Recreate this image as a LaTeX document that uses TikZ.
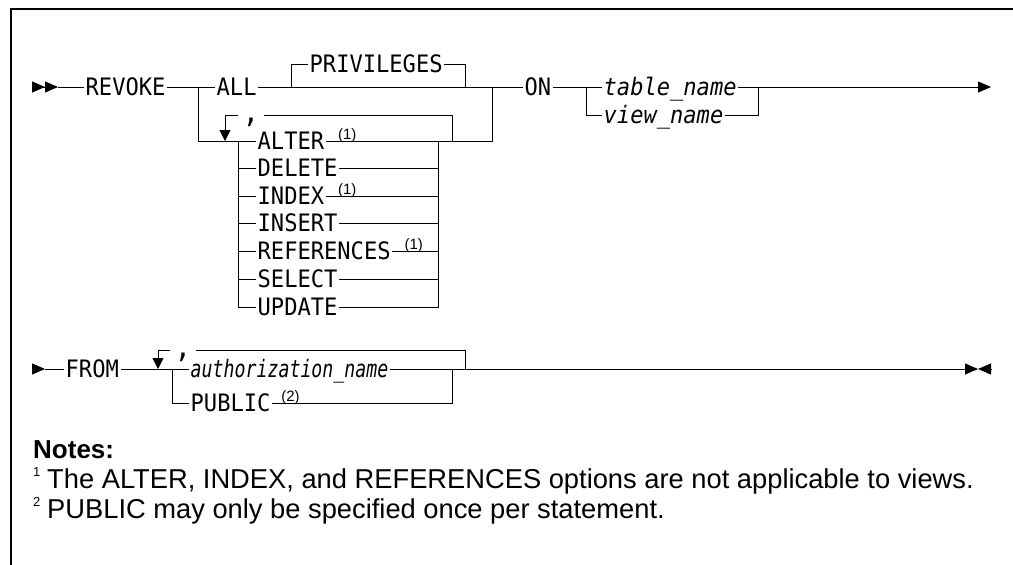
\documentclass[tikz,border=0pt]{standalone}
\usepackage{fontspec}
\setmainfont{Liberation Sans}
\newfontfamily\railfont[FakeStretch=0.92]{DejaVu Sans Mono}
\newfontfamily\railnarrow[FakeStretch=0.76]{DejaVu Sans Mono}
\usetikzlibrary{arrows.meta,positioning}
\tikzset{
  x=1pt,y=-1pt,
  rail/.style={line width=0.9pt},
  kw/.style={font=\railfont\fontsize{24}{24}\selectfont,inner xsep=1.5pt,
    inner ysep=0pt,text height=17pt,text depth=0pt,anchor=west},
  var/.style={kw,font=\railfont\itshape\fontsize{24}{24}\selectfont},
  comma/.style={font=\railfont\fontsize{30}{30}\selectfont,inner xsep=4pt,
    inner ysep=0pt,anchor=north},
  fn/.style={font=\fontsize{15}{15}\selectfont,inner sep=0pt,anchor=south west},
  fnum/.style={font=\fontsize{13}{13}\selectfont,inner sep=0pt,anchor=base west},
  note/.style={font=\fontsize{27.3}{27.3}\selectfont,inner sep=0pt,anchor=base west},
  tip/.style={-{Triangle[length=13pt,width=11pt]}},
  loop tip/.style={-{Triangle[length=11pt,width=11pt]}},
}
\begin{document}
\begin{tikzpicture}
\useasboundingbox (0,0) rectangle (1013,565);
\draw[line width=1.5pt] (11,565) -- (11,9) -- (1013,9);

% first line: REVOKE ... ON
\coordinate (s1) at (32,87);
\draw[rail,-{Triangle[length=13pt,width=11pt]Triangle[length=13pt,width=11pt]}] (s1) -- ++(26,0) coordinate (s1e);
\node[kw] (revoke) at (84,87) {REVOKE};
\coordinate (b1) at (198,87);
\node[kw] (all) at (215,87) {ALL};
\coordinate (pl) at (291,87);
\node[kw] (priv) at (308,64) {PRIVILEGES};
\coordinate (pr) at (465,87);
\coordinate (m1) at (492,87);
\node[kw] (on) at (523,87) {ON};
\coordinate (b2) at (586,87);
\node[var] (tbl) at (602,87) {table\_name};
\node[var] (view) at (602,115) {view\_name};
\coordinate (m2) at (758,87);
\coordinate (e1) at (991,87);

\draw[rail] (s1e) -- (revoke.west);
\draw[rail] (revoke.east) -- (all.west);
\draw[rail] (all.east) -- (on.west);
\draw[rail] (pl) |- (priv.west);
\draw[rail] (priv.east) -| (pr);
\draw[rail,tip] (on.east) -- (tbl.west) (tbl.east) -- (e1);
\draw[rail] (b2) |- (view.west);
\draw[rail] (view.east) -| (m2);

% privilege list
\foreach \n/\t/\y in {alter/ALTER/141,delete/DELETE/168,index/INDEX/196,
  insert/INSERT/223,refs/REFERENCES/251,select/SELECT/279,update/UPDATE/307}
  \node[kw] (\n) at (256,\y) {\t};
\coordinate (ll) at (238,141);
\coordinate (lr) at (438,141);
\draw[rail] (b1) |- (alter.west);
\draw[rail] (alter.east) -| (m1);
\draw[rail] (ll) |- (update.west);
\draw[rail] (update.east) -| (lr);
\foreach \n in {delete,index,insert,refs,select}{
  \draw[rail] (\n.west -| ll) -- (\n.west);
  \draw[rail] (\n.east) -- (\n.east -| lr);
}
\foreach \n in {alter,index,refs}
  \node[fn] at ([xshift=12pt,yshift=-2pt]\n.east) {(1)};

% repeat loop
\coordinate (t1) at (225,115);
\node[comma] (c1) at (251,118) {,};
\coordinate (lp1) at (225,141);
\coordinate (lq1) at (452,141);
\draw[rail,loop tip] (c1.north west |- t1) -| (lp1);
\draw[rail] (c1.north east |- t1) -| (lq1);

% second line: FROM
\coordinate (s2) at (32,369);
\draw[rail,tip] (s2) -- ++(13,0) coordinate (s2e);
\node[kw] (from) at (64,369) {FROM};
\coordinate (lp2) at (158,369);
\coordinate (b3) at (172,369);
\node[var,font=\railnarrow\itshape\fontsize{24}{24}\selectfont] (auth) at (189,369) {authorization\_name};
\node[kw] (pub) at (189,403) {PUBLIC};
\coordinate (m3) at (452,369);
\coordinate (lq2) at (465,369);
\coordinate (t2) at (158,350);
\node[comma] (c2) at (183,353) {,};
\coordinate (e2) at (978,369);
\coordinate (e3) at (991,369);
\draw[rail] (s2e) -- (from.west);
\draw[rail] (from.east) -- (auth.west);
\draw[rail,tip] (auth.east) -- (e2);
\draw[rail,tip] (e3) -- (e2);
\draw[rail] (b3) |- (pub.west);
\draw[rail] (pub.east) -| (m3);
\node[fn] at ([xshift=9pt,yshift=-2pt]pub.east) {(2)};
\draw[rail,loop tip] (c2.north west |- t2) -| (lp2);
\draw[rail] (c2.north east |- t2) -| (lq2);

% notes
\node[note,font=\bfseries\fontsize{26}{26}\selectfont] (notes) at (33,458) {Notes:};
\node[fnum] (n1) at (33,476) {1};
\node[note] (t1) at (47,488) {The ALTER, INDEX, and REFERENCES options are not applicable to views.};
\node[fnum] (n2) at (33,506) {2};
\node[note] (t2) at (47,518) {PUBLIC may only be specified once per statement.};
\end{tikzpicture}
\end{document}
